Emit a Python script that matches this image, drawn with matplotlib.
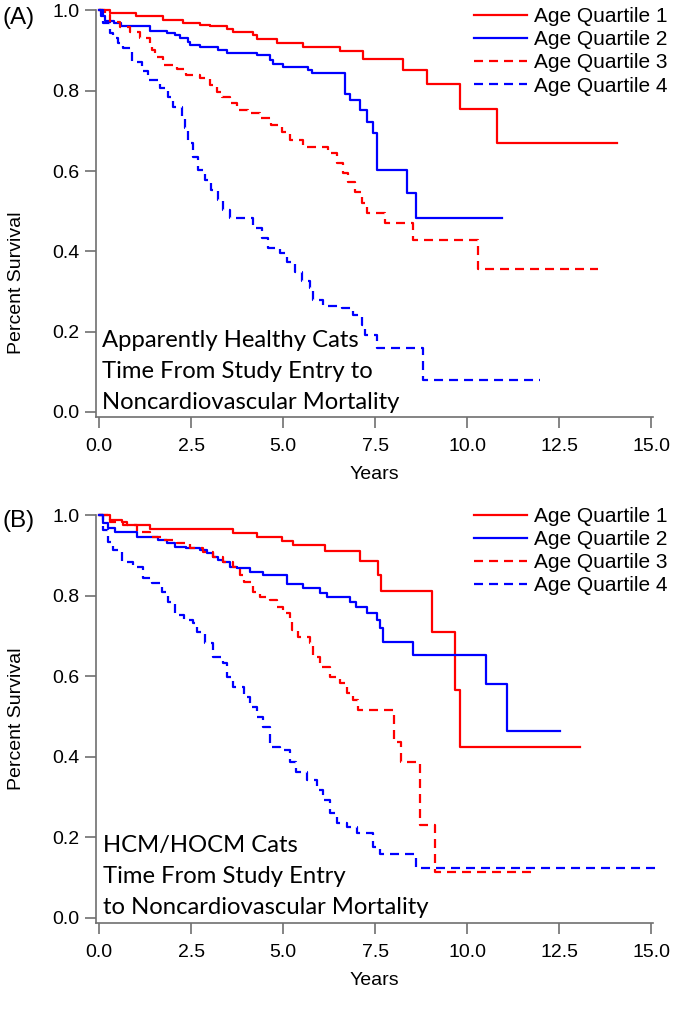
import numpy as np
import matplotlib
matplotlib.use("Agg")
import matplotlib.pyplot as plt

plt.rcParams['font.family'] = ['Liberation Sans', 'DejaVu Sans']
plt.rcParams['lines.scale_dashes'] = False

# ---- data (Kaplan-Meier steps: time of drop, survival after drop) ----
# (A) Apparently healthy cats
a_q1_t = [0, 0.3, 1.0, 1.74, 2.28, 2.74, 3.0, 3.46, 3.64, 4.18, 4.28, 4.82, 5.54, 6.54, 7.17, 8.26, 8.90, 9.80, 10.80, 14.06]
a_q1_s = [1.0, 0.993, 0.985, 0.976, 0.970, 0.965, 0.961, 0.953, 0.946, 0.939, 0.928, 0.920, 0.910, 0.898, 0.878, 0.852, 0.816, 0.755, 0.669, 0.669]

a_q2_t = [0, 0.05, 0.15, 0.4, 0.6, 1.38, 1.83, 2.06, 2.19, 2.42, 2.46, 2.74, 3.23, 3.46, 4.28, 4.64, 4.71, 5.0, 5.68, 5.77,
          6.68, 6.81, 7.08, 7.27, 7.45, 7.54, 8.35, 8.61, 10.94]
a_q2_s = [1.0, 0.985, 0.975, 0.968, 0.962, 0.950, 0.945, 0.939, 0.931, 0.922, 0.914, 0.908, 0.902, 0.895, 0.889, 0.877, 0.867, 0.860, 0.852, 0.844,
          0.792, 0.777, 0.752, 0.723, 0.694, 0.603, 0.545, 0.482, 0.482]

a_q3_t = [0, 0.16, 0.29, 0.56, 0.83, 1.11, 1.38, 1.42, 1.51, 1.74, 2.10, 2.37, 2.74, 3.0, 3.19, 3.33, 3.55, 3.73, 4.05, 4.37,
          4.68, 4.96, 5.18, 5.54, 6.22, 6.45, 6.63, 6.77, 6.95, 7.13, 7.27, 7.76, 8.53, 10.30, 13.56]
a_q3_s = [1.0, 0.989, 0.972, 0.960, 0.947, 0.931, 0.914, 0.902, 0.885, 0.864, 0.854, 0.839, 0.831, 0.814, 0.798, 0.785, 0.769, 0.752, 0.745, 0.731,
          0.715, 0.698, 0.677, 0.661, 0.644, 0.619, 0.595, 0.574, 0.549, 0.520, 0.495, 0.470, 0.428, 0.356, 0.356]

a_q4_t = [0, 0.11, 0.29, 0.38, 0.52, 0.65, 0.88, 1.15, 1.33, 1.65, 1.88, 2.01, 2.24, 2.33, 2.42, 2.55, 2.69, 2.87, 3.05, 3.23,
          3.37, 3.55, 4.18, 4.41, 4.59, 4.91, 5.09, 5.32, 5.50, 5.73, 5.82, 6.09, 6.59, 6.90, 7.13, 7.22, 7.54, 8.79, 11.98]
a_q4_s = [1.0, 0.968, 0.943, 0.931, 0.918, 0.906, 0.872, 0.848, 0.827, 0.806, 0.785, 0.760, 0.735, 0.707, 0.669, 0.636, 0.603, 0.578, 0.553, 0.528,
          0.503, 0.482, 0.457, 0.433, 0.408, 0.395, 0.374, 0.349, 0.325, 0.308, 0.279, 0.264, 0.258, 0.242, 0.217, 0.192, 0.159, 0.080, 0.080]

# (B) HCM/HOCM cats
b_q1_t = [0, 0.29, 0.61, 0.74, 1.38, 3.64, 4.28, 4.96, 5.27, 6.13, 7.08, 7.58, 7.67, 9.03, 9.67, 9.80, 13.06]
b_q1_s = [1.0, 0.988, 0.983, 0.975, 0.965, 0.955, 0.945, 0.936, 0.926, 0.911, 0.887, 0.851, 0.812, 0.709, 0.566, 0.425, 0.425]

b_q2_t = [0, 0.11, 0.24, 0.43, 1.02, 1.60, 1.83, 2.06, 2.37, 2.74, 2.92, 3.10, 3.23, 3.37, 3.55, 3.73, 4.10, 4.46, 5.09, 5.54,
          6.0, 6.18, 6.81, 6.99, 7.27, 7.54, 7.63, 7.72, 8.53, 10.51, 11.07, 12.52]
b_q2_s = [1.0, 0.979, 0.967, 0.959, 0.946, 0.938, 0.930, 0.921, 0.917, 0.913, 0.905, 0.897, 0.888, 0.884, 0.872, 0.868, 0.859, 0.851, 0.830, 0.818,
          0.806, 0.797, 0.785, 0.772, 0.756, 0.739, 0.719, 0.686, 0.653, 0.580, 0.464, 0.464]

b_q3_t = [0, 0.29, 0.65, 1.02, 1.38, 1.74, 2.10, 2.46, 2.83, 3.10, 3.37, 3.64, 3.82, 3.92, 4.18, 4.37, 4.64, 4.82, 5.0, 5.18,
          5.23, 5.41, 5.73, 5.82, 6.0, 6.27, 6.54, 6.72, 6.90, 7.04, 8.0, 8.19, 8.72, 9.12, 11.89]
b_q3_s = [1.0, 0.983, 0.975, 0.959, 0.946, 0.938, 0.930, 0.917, 0.909, 0.897, 0.884, 0.872, 0.851, 0.834, 0.810, 0.797, 0.789, 0.772, 0.756, 0.739,
          0.715, 0.698, 0.682, 0.648, 0.624, 0.599, 0.582, 0.558, 0.541, 0.516, 0.437, 0.388, 0.231, 0.115, 0.115]

b_q4_t = [0, 0.11, 0.24, 0.38, 0.61, 0.92, 1.20, 1.42, 1.70, 1.88, 2.06, 2.29, 2.55, 2.65, 2.87, 3.10, 3.37, 3.46, 3.64, 3.92,
          4.10, 4.28, 4.46, 4.64, 4.91, 5.18, 5.36, 5.64, 5.92, 6.09, 6.27, 6.45, 6.72, 7.0, 7.45, 7.63, 8.62, 15.15]
b_q4_s = [1.0, 0.963, 0.934, 0.913, 0.884, 0.872, 0.843, 0.831, 0.810, 0.785, 0.752, 0.739, 0.731, 0.710, 0.682, 0.648, 0.632, 0.599, 0.574, 0.549,
          0.524, 0.500, 0.475, 0.425, 0.417, 0.388, 0.363, 0.342, 0.318, 0.293, 0.260, 0.235, 0.227, 0.210, 0.177, 0.159, 0.123, 0.123]

legend_labels = ['Age Quartile 1', 'Age Quartile 2', 'Age Quartile 3', 'Age Quartile 4']
x_ticks = [0.0, 2.5, 5.0, 7.5, 10.0, 12.5, 15.0]
y_ticks = [0.0, 0.2, 0.4, 0.6, 0.8, 1.0]

RED = '#ff0000'
BLUE = '#0000ff'
GREY = '#707070'
DASH = (0, (6.5, 4.3))

fig = plt.figure(figsize=(6.73, 10.17), dpi=100)
ax_a = fig.add_axes([0.1426, 0.5900, 0.8277, 0.3997])
ax_b = fig.add_axes([0.1426, 0.0924, 0.8277, 0.4012])


def draw_panel(ax, curves, label_y):
    styles = [(RED, '-'), (BLUE, '-'), (RED, DASH), (BLUE, DASH)]
    for (t, s), (c, ls), lab in zip(curves, styles, legend_labels):
        ax.step(t, s, where='post', color=c, linestyle=ls, lw=1.6, label=lab, clip_on=False)
    ax.set_xlim(-0.09, 15.05)
    ax.set_ylim(-0.0125, 1.0)
    ax.set_xticks(x_ticks)
    ax.set_yticks(y_ticks)
    ax.set_xticklabels(['%.1f' % v for v in x_ticks])
    ax.set_yticklabels(['%.1f' % v for v in y_ticks])
    for side in ['top', 'right']:
        ax.spines[side].set_visible(False)
    for side in ['left', 'bottom']:
        ax.spines[side].set_color(GREY)
        ax.spines[side].set_linewidth(1.2)
    ax.tick_params(direction='out', length=8, width=1.2, color=GREY, labelsize=14, pad=4)
    ax.tick_params(axis='x', pad=7)
    ax.set_xlabel('Years', fontsize=14, labelpad=8)
    ax.set_ylabel('Percent Survival', fontsize=14)
    ax.yaxis.set_label_coords(-0.128, label_y)


draw_panel(ax_a, [(a_q1_t, a_q1_s), (a_q2_t, a_q2_s), (a_q3_t, a_q3_s), (a_q4_t, a_q4_s)], 0.33)
draw_panel(ax_b, [(b_q1_t, b_q1_s), (b_q2_t, b_q2_s), (b_q3_t, b_q3_s), (b_q4_t, b_q4_s)], 0.5)

for ax, top in [(ax_a, 0.993), (ax_b, 0.5015)]:
    fig.legend(handles=ax.get_lines(), loc='upper right', bbox_to_anchor=(0.992, top),
               frameon=False, fontsize=15, handlelength=2.55, handletextpad=0.35,
               labelspacing=0.2, borderpad=0, borderaxespad=0)

# panel letters
fig.text(0.003, 1 - 18 / 1017, '(A)', fontsize=17.5, va='center', ha='left')
fig.text(0.003, 1 - 521 / 1017, '(B)', fontsize=17.5, va='center', ha='left')

# panel captions (Calibri-like text in the original)
cap_a = ['Apparently Healthy Cats', 'Time From Study Entry to', 'Noncardiovascular Mortality']
cap_b = ['HCM/HOCM Cats', 'Time From Study Entry', 'to Noncardiovascular Mortality']
for lines, x0, baselines in [(cap_a, 101.7, [346.7, 377.7, 409]), (cap_b, 103, [851.7, 883, 913.5])]:
    for txt, yb in zip(lines, baselines):
        fig.text(x0 / 673, 1 - yb / 1017, txt, fontsize=17.2, family=['Lato', 'DejaVu Sans'],
                 va='baseline', ha='left')

fig.savefig('out.png', dpi=100)
